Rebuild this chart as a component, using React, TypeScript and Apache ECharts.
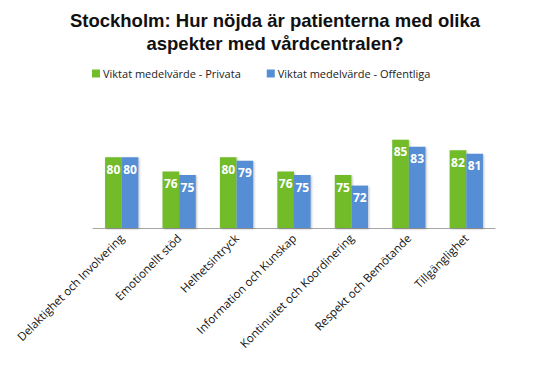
import React, { useEffect, useRef } from "react";
import * as echarts from "echarts";

const categories = [
  "Delaktighet och Involvering",
  "Emotionellt stöd",
  "Helhetsintryck",
  "Information och Kunskap",
  "Kontinuitet och Koordinering",
  "Respekt och Bemötande",
  "Tillgänglighet",
];
const privata = [80, 76, 80, 76, 75, 85, 82];
const offentliga = [80, 75, 79, 75, 72, 83, 81];
const seriesNames = ["Viktat medelvärde - Privata", "Viktat medelvärde - Offentliga"];
const titleText = "Stockholm: Hur nöjda är patienterna med olika\naspekter med vårdcentralen?";

export default function App() {
  const ref = useRef<HTMLDivElement>(null);
  useEffect(() => {
    const chart = echarts.init(ref.current!, null, { renderer: "svg" });
    const label = {
      show: true,
      position: "insideTop" as const,
      distance: 6,
      color: "#ffffff",
      fontWeight: "bold" as const,
      fontSize: 12,
      fontFamily: "Open Sans",
    };
    chart.setOption({
      animation: false,
      title: {
        text: titleText,
        left: "center",
        top: 4,
        textStyle: {
          fontFamily: "Liberation Sans",
          fontSize: 18.5,
          fontWeight: "bold",
          color: "#111",
          lineHeight: 23,
        },
      },
      legend: {
        left: 87,
        top: 63,
        itemWidth: 8,
        itemHeight: 8,
        itemGap: 26,
        icon: "rect",
        textStyle: { fontFamily: "Open Sans", fontSize: 11, color: "#222", padding: [0, 0, 0, -2] },
        data: seriesNames,
      },
      grid: { left: 93, right: 55, top: 122, bottom: 152 },
      xAxis: {
        type: "category",
        data: categories,
        axisLine: { lineStyle: { color: "#a6a6a6", width: 1 } },
        axisTick: { show: false },
        axisLabel: {
          rotate: 45,
          interval: 0,
          fontFamily: "Open Sans",
          fontSize: 11.5,
          color: "#111",
          margin: 8,
        },
      },
      yAxis: {
        type: "value",
        min: 60,
        max: 90,
        show: false,
        splitLine: { show: false },
      },
      series: [
        {
          name: seriesNames[0],
          type: "bar",
          data: privata,
          barGap: "0%",
          barCategoryGap: "42%",
          itemStyle: { color: "#72bc2a", shadowColor: "rgba(0,0,0,0.25)", shadowBlur: 2, shadowOffsetX: 1, shadowOffsetY: 1 },
          label,
        },
        {
          name: seriesNames[1],
          type: "bar",
          data: offentliga,
          itemStyle: { color: "#558ed5", shadowColor: "rgba(0,0,0,0.25)", shadowBlur: 2, shadowOffsetX: 1, shadowOffsetY: 1 },
          label,
        },
      ],
    });
    return () => chart.dispose();
  }, []);
  return <div ref={ref} style={{ position: "absolute", left: 0, top: 0, width: 550, height: 380 }} />;
}
